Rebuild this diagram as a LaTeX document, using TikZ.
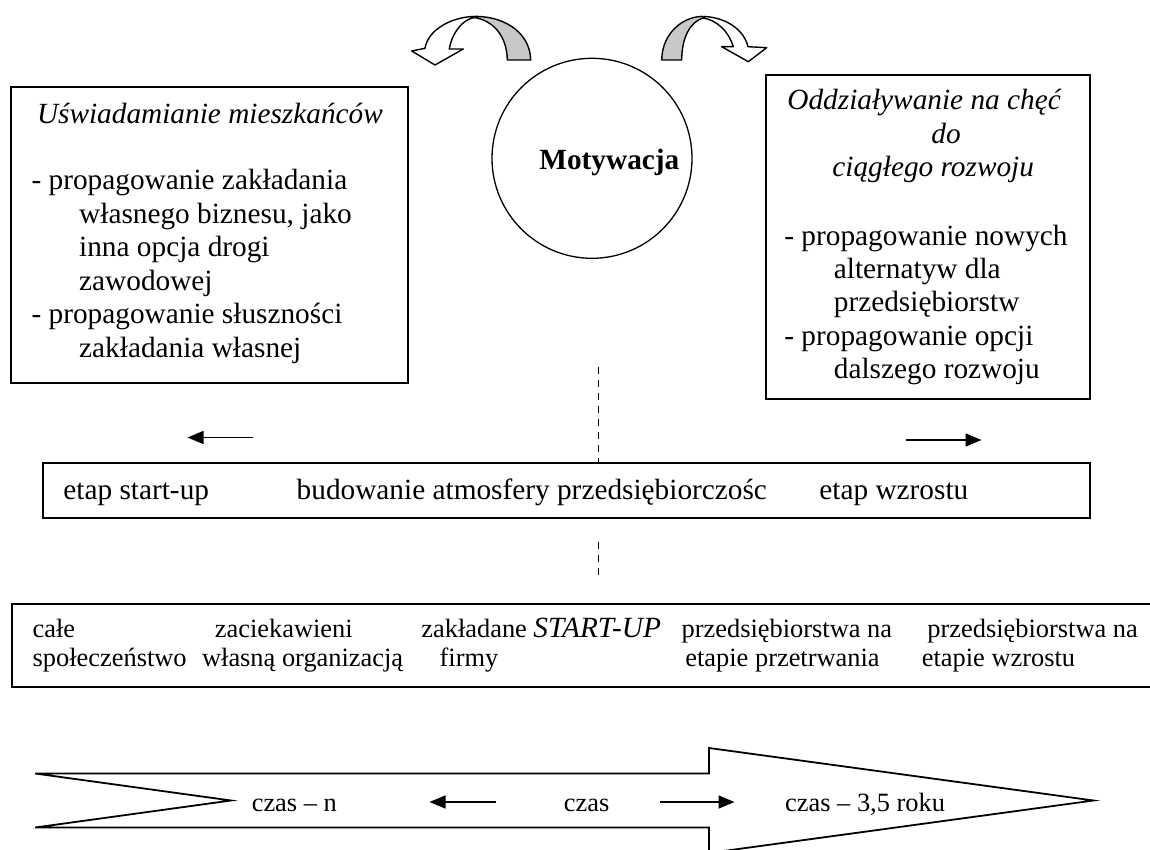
\documentclass[tikz,border=0pt]{standalone}
\usepackage{fontspec}
\setmainfont{Liberation Serif}
\usetikzlibrary{arrows.meta}
\definecolor{bandgray}{RGB}{200,200,200}
\tikzset{
  box/.style={draw, line width=1pt, rectangle, inner sep=0pt, anchor=north west},
  txt/.style={anchor=base west, inner sep=0pt, font=\fontsize{14.65pt}{16.7pt}\selectfont},
  txti/.style={txt, font=\fontsize{14.65pt}{16.7pt}\selectfont\itshape},
  txtb/.style={txt, font=\fontsize{14.65pt}{16.7pt}\selectfont\bfseries},
  txts/.style={anchor=base west, inner sep=0pt, font=\fontsize{13.2pt}{15pt}\selectfont},
  harrow/.style={line width=0.8pt, -{Triangle[length=8pt,width=6.5pt]}},
  dashline/.style={dash pattern=on 3.5pt off 3pt, line width=0.5pt},
  band/.style={line width=0.7pt, line join=round},
}
\begin{document}
\begin{tikzpicture}[x=0.5pt,y=-0.5pt]
\useasboundingbox (0,0) rectangle (1150,850);
\clip (0,0) rectangle (1150,850);

% curved arrows
\draw[band, fill=bandgray] (530.7,60) .. controls (530,30) and (500,15) .. (472,16.5)
  -- (474,17.5) .. controls (492,20) and (507,35) .. (507.3,60) -- cycle;
\draw[band, fill=white] (472,16.5) .. controls (450,18) and (428,30) .. (425,48.3)
  -- (411.7,51) -- (435,65) -- (463.3,49) -- (449.3,49)
  .. controls (452,33) and (462,20) .. (474,17.5) -- cycle;

\draw[band, fill=bandgray] (661.7,60) .. controls (662,32) and (685,15) .. (705,16.5)
  -- (703,18) .. controls (690,22) and (681.7,38) .. (681.7,60) -- cycle;
\draw[band, fill=white] (705,16.5) .. controls (727,18) and (744,30) .. (748,46.7)
  -- (766.7,47.7) -- (748.3,61.7) -- (721.7,46.7) -- (733.3,46.7)
  .. controls (728,30) and (716,20) .. (703,18) -- cycle;

% circle
\node[draw, circle, line width=0.65pt, minimum size=100pt, inner sep=0pt] (mot) at (592,158.3) {};
\node[txtb] (motT) at (539,170) {Motywacja};

% left box
\node[box, minimum width=198.4pt, minimum height=147.85pt] (lbox) at (10.2,86) {};
\node[txti] (l0) at (36.6,123.3) {Uświadamianie mieszkańców};
\node[txt] (l1) at (31.2,190) {- propagowanie zakładania};
\node[txt] (l2) at (78.8,223.4) {własnego biznesu, jako};
\node[txt] (l3) at (78.8,256.8) {inna opcja drogi};
\node[txt] (l4) at (78.8,290.2) {zawodowej};
\node[txt] (l5) at (31.2,323.6) {- propagowanie słuszności};
\node[txt] (l6) at (78.8,357) {zakładania własnej};

% right box
\node[box, minimum width=162.2pt, minimum height=161.85pt] (rbox) at (764.6,74) {};
\node[txti] (r0) at (787,110) {Oddziaływanie na chęć};
\node[txti] (r1) at (931,143.4) {do};
\node[txti] (r2) at (832,176.8) {ciągłego rozwoju};
\node[txt] (r3) at (784,245) {- propagowanie nowych};
\node[txt] (r4) at (833.5,278.4) {alternatyw dla};
\node[txt] (r5) at (833.5,311.8) {przedsiębiorstw};
\node[txt] (r6) at (784,345.2) {- propagowanie opcji};
\node[txt] (r7) at (833.5,378.6) {dalszego rozwoju};

% middle box
\node[box, minimum width=523.4pt, minimum height=27.5pt] (mid) at (42.2,462.3) {};
\node[txt] (m1) at (63,499) {etap start-up};
\node[txt] (m2) at (296.3,499) {budowanie atmosfery przedsiębiorczośc};
\node[txt] (m3) at (819,499) {etap wzrostu};

% arrows above the middle box
\coordinate (la1) at (253,437.5);
\coordinate (la2) at (187.5,437.5);
\coordinate (ra1) at (906,440);
\coordinate (ra2) at (981.5,440);
\draw[harrow] (la1) -- (la2);
\draw[harrow] (ra1) -- (ra2);

% dashed lines
\coordinate (d1) at (598.8,367);
\coordinate (d2) at (598.8,541.5);
\coordinate (d3) at (598.8,576);
\draw[dashline] (d1) -- (d1 |- mid.north);
\draw[dashline] (d2) -- (d3);

% bottom box
\node[box, minimum width=577pt, minimum height=41.35pt] (bbox) at (11,603.3) {};
\node[txts] (b1) at (32.3,637.5) {całe};
\node[txts] (b2) at (32.3,666) {społeczeństwo};
\node[txts] (b3) at (214.5,637.5) {zaciekawieni};
\node[txts] (b4) at (201.7,666) {własną organizacją};
\node[txts] (b5) at (421,637.5) {zakładane};
\node[txti] (b6) at (533,637.5) {START-UP};
\node[txts] (b7) at (439.3,666) {firmy};
\node[txts] (b8) at (681.3,637.5) {przedsiębiorstwa na};
\node[txts] (b9) at (685,666) {etapie przetrwania};
\node[txts] (b10) at (927,637.5) {przedsiębiorstwa na};
\node[txts] (b11) at (921.5,666) {etapie wzrostu};

% big time arrow
\draw[line width=0.9pt, line join=miter] (35.2,773.5) -- (709,773.5) -- (709,748) -- (1093.5,800.5)
  -- (709,853) -- (709,827.5) -- (35.2,827.5) -- (231,800.5) -- cycle;
\node[txts] (t1) at (251.4,811.5) {czas – n};
\node[txts] (t2) at (563.5,811.5) {czas};
\node[txts] (t3) at (784.8,811.5) {czas – 3,5 roku};
\coordinate (ta1) at (495.5,802);
\coordinate (ta2) at (429.5,802);
\coordinate (tb1) at (659.5,802);
\coordinate (tb2) at (734.5,802);
\draw[harrow] (ta1) -- (ta2);
\draw[harrow] (tb1) -- (tb2);
\end{tikzpicture}
\end{document}
